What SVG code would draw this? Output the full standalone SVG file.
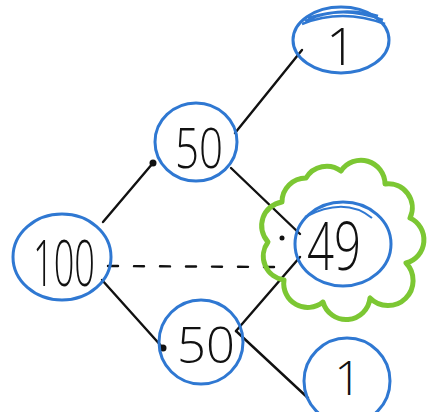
<svg xmlns="http://www.w3.org/2000/svg" width="430" height="412" viewBox="0 0 430 412">
  <style>
    .ring { fill: none; stroke: #2f78d2; stroke-width: 3; }
    .num { font-family: "Open Sans", "Liberation Sans", sans-serif; font-weight: 300; fill: #111; text-anchor: middle; }
    .edge { stroke: #111; stroke-width: 2.4; fill: none; stroke-linecap: round; }
    .dot { fill: #111; }
  </style>
  <rect width="430" height="412" fill="#ffffff"/>

  <!-- connectors -->
  <g id="connectors">
    <line class="edge" x1="103" y1="222" x2="153" y2="163"/>
    <circle class="dot" cx="153" cy="163" r="3.5"/>
    <line class="edge" x1="235" y1="133" x2="302" y2="50"/>
    <line class="edge" x1="231" y1="168" x2="300" y2="234"/>
    <line class="edge" x1="102" y1="280" x2="163" y2="348"/>
    <circle class="dot" cx="163" cy="348" r="3.5"/>
    <line class="edge" x1="236" y1="331" x2="300" y2="257"/>
    <line class="edge" x1="236" y1="331" x2="308" y2="398"/>
    <line class="edge" x1="108" y1="266" x2="276" y2="267" stroke-dasharray="10 16"/>
    <circle class="dot" cx="282" cy="238" r="2.5"/>
  </g>

  <!-- highlight cloud around 49 -->
  <g id="cloud">
    <path fill="none" stroke="#7cc733" stroke-width="5" stroke-linejoin="round"
      d="M341,171 A24,24 0 0 1 385,184 A24,24 0 0 1 410,218 A24,24 0 0 1 406,263 A24,24 0 0 1 370,298 A24,24 0 0 1 323,302 A24,24 0 0 1 284,280 A24,24 0 0 1 268,242 A24,24 0 0 1 282,202 A24,24 0 0 1 306,178 A24,24 0 0 1 341,171 Z"/>
  </g>

  <g id="n100">
    <ellipse class="ring" cx="62" cy="257" rx="49" ry="43"/>
    <text class="num" x="64" y="286" font-size="64" textLength="62" lengthAdjust="spacingAndGlyphs">100</text>
  </g>

  <g id="n50top">
    <ellipse class="ring" cx="196" cy="142" rx="41" ry="39"/>
    <text class="num" x="199" y="168" font-size="55" textLength="48" lengthAdjust="spacingAndGlyphs">50</text>
  </g>

  <g id="n1top">
    <ellipse class="ring" cx="341" cy="40" rx="48" ry="33"/>
    <path fill="none" stroke="#2f78d2" stroke-width="2.5" d="M305,21 Q340,4 383,20 M302,24 Q342,8 385,24 M308,18 Q345,6 378,16"/>
    <text class="num" x="341" y="65" font-size="52">1</text>
  </g>

  <g id="n49">
    <ellipse class="ring" cx="343" cy="244" rx="48" ry="42"/>
    <path fill="none" stroke="#2f78d2" stroke-width="2" d="M305,217 Q345,196 372,218"/>
    <text class="num" x="334" y="270" font-size="66" textLength="54" lengthAdjust="spacingAndGlyphs">49</text>
  </g>

  <g id="n50bottom">
    <ellipse class="ring" cx="201" cy="342" rx="42" ry="42"/>
    <text class="num" x="206" y="363" font-size="49" textLength="58" lengthAdjust="spacingAndGlyphs">50</text>
  </g>

  <g id="n1bottom">
    <ellipse class="ring" cx="347" cy="381" rx="43" ry="43"/>
    <text class="num" x="348" y="395" font-size="48">1</text>
  </g>
</svg>
